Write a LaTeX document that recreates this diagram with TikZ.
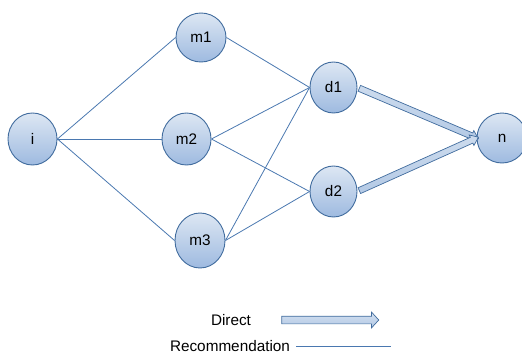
\documentclass[tikz,border=0pt]{standalone}
\usepackage{fontspec}
\setmainfont{Liberation Sans}
\usetikzlibrary{shapes.geometric,shapes.arrows,calc}

\definecolor{nodeedge}{HTML}{416C9E}
\definecolor{nodetop}{HTML}{DDE7F3}
\definecolor{nodebot}{HTML}{9EBAE0}
\definecolor{linkblue}{HTML}{4A78B0}
\definecolor{arrowfill}{HTML}{B7CCE6}

\tikzset{
  state/.style={ellipse, draw=nodeedge, line width=0.9pt,
    top color=nodetop, bottom color=nodebot,
    minimum width=49pt, minimum height=51pt, inner sep=0pt,
    font=\fontsize{15.3}{18}\selectfont},
  link/.style={draw=linkblue, line width=0.8pt},
  directarrow/.style={single arrow, draw=nodeedge, line width=0.7pt,
    top color=arrowfill!70!white, bottom color=arrowfill!85!nodebot,
    inner xsep=0pt, inner ysep=2.8pt, minimum width=0pt,
    single arrow head extend=2.6pt, single arrow tip angle=75},
  legendarrow/.style={single arrow, draw=nodeedge, line width=0.7pt,
    top color=arrowfill!60!white, bottom color=arrowfill!80!nodebot,
    inner xsep=0pt, inner ysep=3.5pt, minimum width=0pt,
    single arrow head extend=4pt, single arrow tip angle=95},
  legendtext/.style={font=\fontsize{15.3}{18}\selectfont, inner sep=0pt}
}

\begin{document}
\begin{tikzpicture}[x=1pt, y=-1pt]
  \useasboundingbox (0,0) rectangle (522,356);
  \begin{scope}
  \clip (0,0) rectangle (522,356);

  % nodes
  \node[state, minimum height=52pt] (i)  at (32.5,139)  {i};
  \node[state, minimum width=50pt, minimum height=49pt] (m1) at (201,37.5) {m1};
  \node[state, minimum height=52pt] (m2) at (186.5,139) {m2};
  \node[state, minimum width=50pt, minimum height=55pt] (m3) at (200,240.5) {m3};
  \node[state, minimum width=47pt] (d1) at (333.5,87.5) {d1};
  \node[state, minimum width=47pt] (d2) at (333.5,191.5) {d2};
  \node[state, minimum width=50pt, minimum height=50pt] (n) at (502,138) {n};

  % recommendation links
  \draw[link] (i.east) -- (m1.west);
  \draw[link] (i.east) -- (m2.west);
  \draw[link] (i.east) -- (m3.west);
  \draw[link] (m1.east) -- (d1.west);
  \draw[link] (m2.east) -- (d1.west);
  \draw[link] (m2.east) -- (d2.west);
  \draw[link] (m3.east) -- (d1.west);
  \draw[link] (m3.east) -- (d2.west);

  % direct links
  \path let \p1=($(n.west)-(d1.east)$), \n1={veclen(\x1,\y1)} in
    (d1.east) -- (n.west) node[midway, sloped, directarrow, minimum height=\n1] {};
  \path let \p1=($(n.west)-(d2.east)$), \n1={veclen(\x1,\y1)} in
    (d2.east) -- (n.west) node[midway, sloped, directarrow, minimum height=\n1] {};

  % legend
  \node[legendtext] (direct) at (231,320) {Direct};
  \node[legendarrow, minimum height=97pt] (directkey) at (328.5,320) {};
  \node[legendtext] (recom) at (230,346) {Recommendation};
  \coordinate (recA) at (296,346);
  \coordinate (recB) at (391,346);
  \draw[link] (recA) -- (recB);
  \end{scope}
\end{tikzpicture}
\end{document}
